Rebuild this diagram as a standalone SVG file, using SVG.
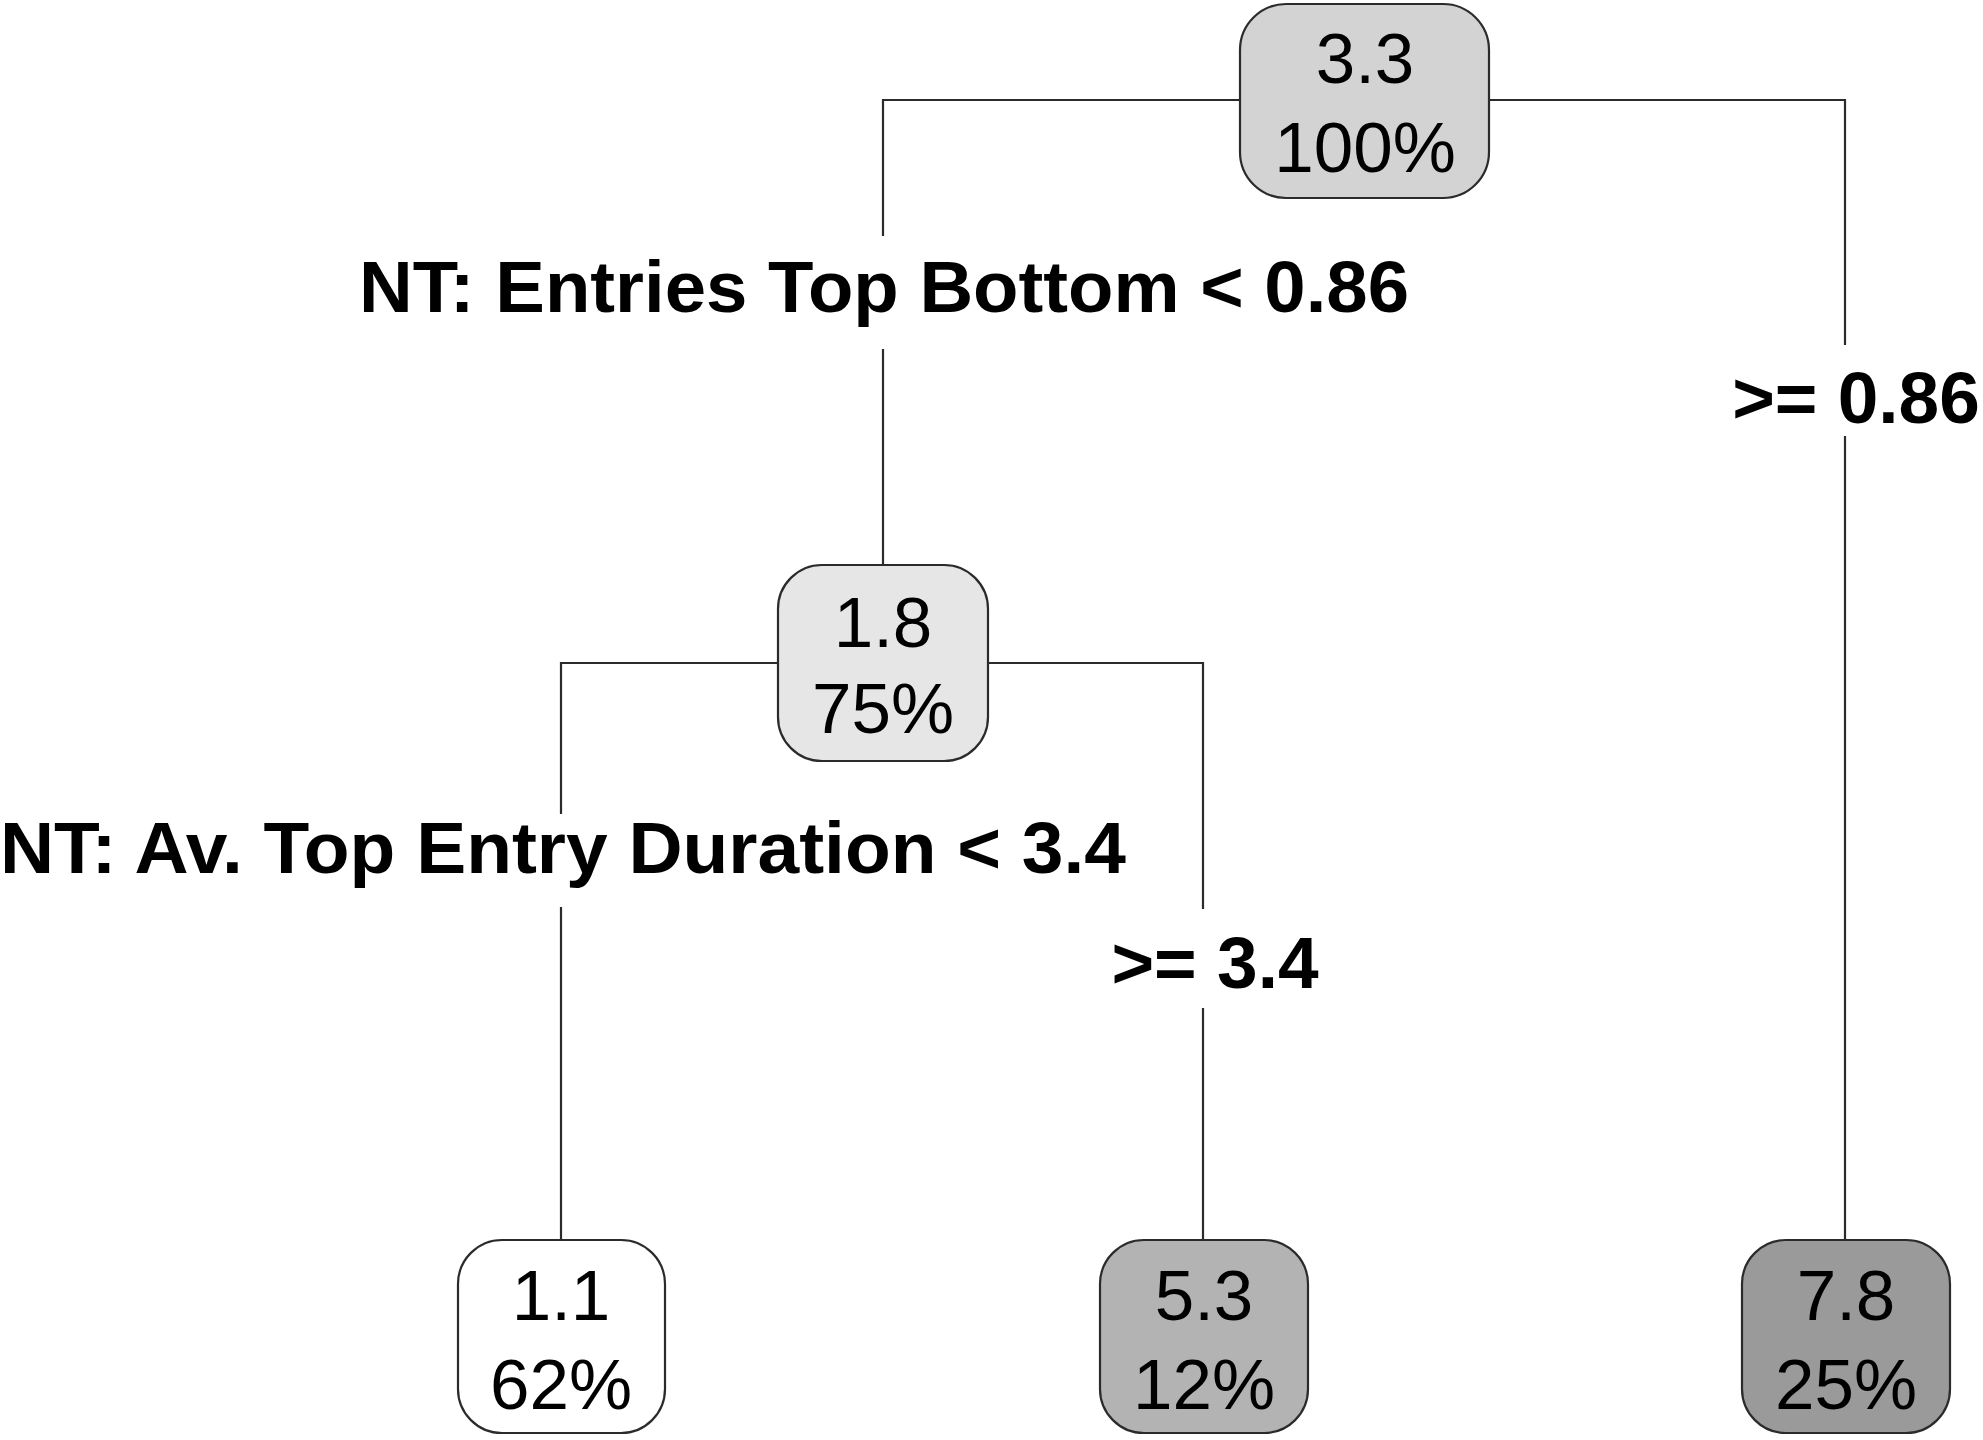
<svg xmlns="http://www.w3.org/2000/svg" width="1983" height="1440" viewBox="0 0 1983 1440">
<style>
.node rect{stroke:#2b2b2b;stroke-width:2.2}
.node text{font-family:"Liberation Sans",Arial,sans-serif;font-size:71px;fill:#000;text-anchor:middle}
.conn path{fill:none;stroke:#2b2b2b;stroke-width:2.2}
.lbl{font-family:"Liberation Sans",Arial,sans-serif;font-size:73px;font-weight:bold;fill:#000;text-anchor:middle}
</style>
<rect width="1983" height="1440" fill="#ffffff"/>
<g id="connectors" class="conn">
<path d="M1240,100 H883 V236"/>
<path d="M883,349 V565"/>
<path d="M1489,100 H1845 V345"/>
<path d="M1845,436 V1240"/>
<path d="M778,663 H561 V814"/>
<path d="M561,907 V1240"/>
<path d="M988,663 H1203 V909"/>
<path d="M1203,1008 V1240"/>
</g>
<g id="labels">
<text class="lbl" x="884" y="312" textLength="1050" lengthAdjust="spacingAndGlyphs">NT: Entries Top Bottom &lt; 0.86</text>
<text class="lbl" x="1856" y="423">&gt;= 0.86</text>
<text class="lbl" x="563" y="873" textLength="1126" lengthAdjust="spacingAndGlyphs">NT: Av. Top Entry Duration &lt; 3.4</text>
<text class="lbl" x="1215" y="988">&gt;= 3.4</text>
</g>
<g id="node-root" class="node">
<rect x="1240" y="4" width="249" height="194" rx="46" ry="46" fill="#d3d3d3"/>
<text x="1365" y="83">3.3</text>
<text x="1365" y="172">100%</text>
</g>
<g id="node-left" class="node">
<rect x="778" y="565" width="210" height="196" rx="44" ry="44" fill="#e6e6e6"/>
<text x="883" y="647">1.8</text>
<text x="883" y="733">75%</text>
</g>
<g id="node-ll" class="node">
<rect x="458" y="1240" width="207" height="193" rx="44" ry="44" fill="#ffffff"/>
<text x="561" y="1320">1.1</text>
<text x="561" y="1409">62%</text>
</g>
<g id="node-lr" class="node">
<rect x="1100" y="1240" width="208" height="193" rx="44" ry="44" fill="#b3b3b3"/>
<text x="1204" y="1320">5.3</text>
<text x="1204" y="1409">12%</text>
</g>
<g id="node-r" class="node">
<rect x="1742" y="1240" width="208" height="193" rx="44" ry="44" fill="#9a9a9a"/>
<text x="1846" y="1320">7.8</text>
<text x="1846" y="1409">25%</text>
</g>
</svg>
